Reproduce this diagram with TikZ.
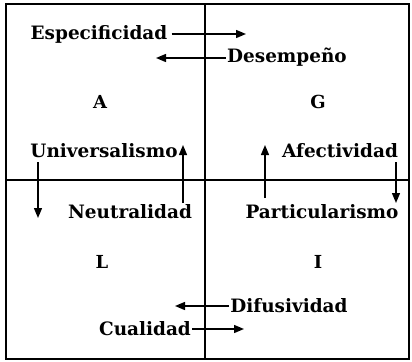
\documentclass[tikz,border=0pt]{standalone}
\usepackage{fontspec}
\setmainfont{DejaVu Serif}
\usetikzlibrary{arrows.meta}
\begin{document}
\begin{tikzpicture}[x=1bp,y=-1bp,
  lbl/.style={font=\fontsize{18.5}{20}\selectfont\bfseries, inner sep=0pt},
  big/.style={font=\fontsize{18}{20}\selectfont\bfseries, inner sep=0pt},
  frame/.style={line width=2.2bp},
  arr/.style={line width=1.4bp, -{Triangle[length=10bp,width=8bp]}}]
\useasboundingbox (0,0) rectangle (412,362);
\draw[frame] (6,4) rectangle (409,359);
\draw[frame] (205,4) -- (205,359);
\draw[frame] (6,180) -- (409,180);
% labels
\node[lbl] (esp) at (99,34) {Especificidad};
\node[lbl] (des) at (287,57) {Desempeño};
\node[big] (A) at (100,102) {A};
\node[big] (G) at (318,102) {G};
\node[lbl] (uni) at (104,151) {Universalismo};
\node[lbl] (afe) at (340,151) {Afectividad};
\node[lbl] (neu) at (130,212) {Neutralidad};
\node[lbl] (par) at (322,212) {Particularismo};
\node[big] (L) at (102,262) {L};
\node[big] (I) at (318,262) {I};
\node[lbl] (dif) at (289,306) {Difusividad};
\node[lbl] (cua) at (145,329) {Cualidad};
% arrow coordinates
\coordinate (e1) at (246,34);
\coordinate (d1) at (156,58);
\coordinate (u1) at (38,162);
\coordinate (u2) at (38,218);
\coordinate (n1) at (183,203);
\coordinate (n2) at (183,145);
\coordinate (a1) at (265,198);
\coordinate (a2) at (265,145);
\coordinate (p1) at (396,162);
\coordinate (p2) at (396,203);
\coordinate (f1) at (175,306);
\coordinate (c1) at (244,329);
\draw[arr] (esp.east) ++(4,0) -- (e1);
\draw[arr] (des.west) ++(-1,1) -- (d1);
\draw[arr] (u1) -- (u2);
\draw[arr] (n1) -- (n2);
\draw[arr] (a1) -- (a2);
\draw[arr] (p1) -- (p2);
\draw[arr] (dif.west) ++(-1,0) -- (f1);
\draw[arr] (cua.east) ++(1,0) -- (c1);
\end{tikzpicture}
\end{document}
